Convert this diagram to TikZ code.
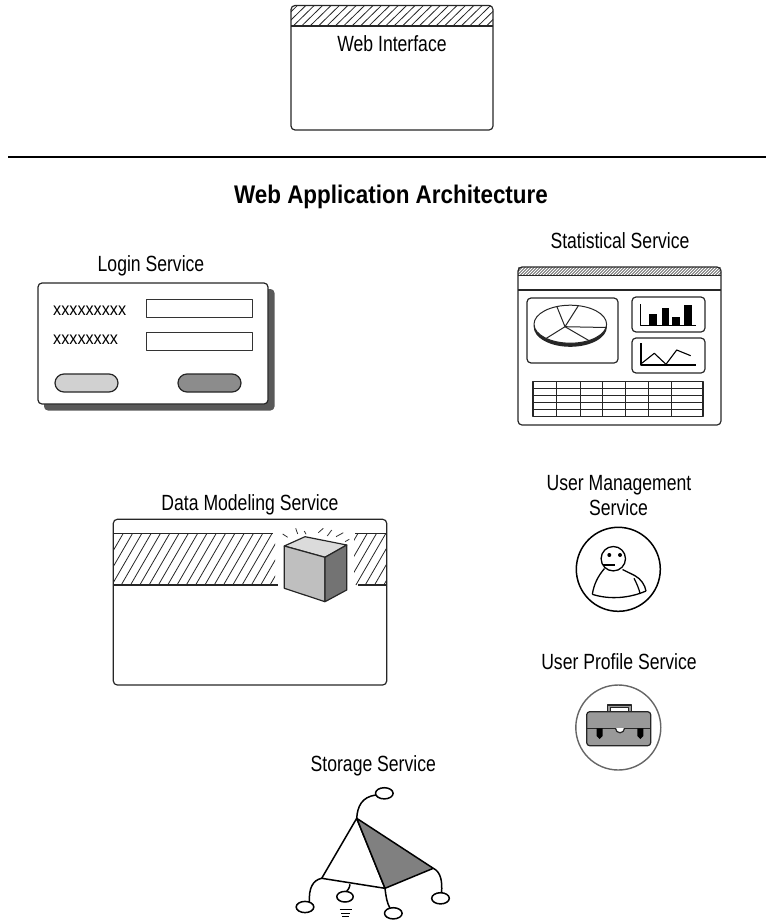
\documentclass[tikz,border=0pt]{standalone}
\usepackage{fontspec}
\setmainfont[FakeStretch=0.8]{Liberation Sans}
\newfontfamily\headfont[FakeStretch=0.88]{Liberation Sans}
\newfontfamily\fieldfont[FakeStretch=0.9]{Liberation Sans}

\begin{document}
\begin{tikzpicture}[x=1pt,y=-1pt, line join=round,
  outline/.style={draw=black!85, line width=1.2pt},
  panel/.style={outline, rounded corners=4pt},
  lbl/.style={anchor=base, inner sep=0pt, font=\fontsize{22}{26}\selectfont},
  hatchline/.style={draw=black!85, line width=0.8pt},
  ink/.style={draw=black, line width=1.5pt}]
\useasboundingbox (0,0) rectangle (766,921);

% ---------- Web Interface window ----------
\begin{scope}
  \clip (291,5.5) rectangle (493,26);
  \foreach \i in {0,...,27}
    \draw[hatchline] ({268+\i*8.4},26) -- ({289+\i*8.4},5.5);
\end{scope}
\draw[outline] (291,26) -- (493,26);
\draw[panel] (291,5.5) rectangle (493,130);
\node[lbl] (webui) at (392,51.5) {Web Interface};

% ---------- separator and title ----------
\coordinate (sepL) at (8,157);
\coordinate (sepR) at (766,157);
\draw[line width=2.7pt] (sepL) -- (sepR);
\node[anchor=base, inner sep=0pt, font=\headfont\bfseries\fontsize{25.5}{30}\selectfont] (title) at (391,203) {Web Application Architecture};

% ---------- Login Service ----------
\node[lbl] (loginlbl) at (151,271.5) {Login Service};
\fill[black!65, rounded corners=4pt] (44,289) rectangle (274.5,410.5);
\draw[panel, fill=white] (38,283) rectangle (268,404);
\draw[draw=black!80, line width=1pt] (146,299) rectangle (252,317);
\draw[draw=black!80, line width=1pt] (146,332) rectangle (252,350);
\node[anchor=base west, inner sep=0pt, font=\fieldfont\fontsize{18}{20}\selectfont] (user) at (53,315) {xxxxxxxxx};
\node[anchor=base west, inner sep=0pt, font=\fieldfont\fontsize{18}{20}\selectfont] (pass) at (53,344) {xxxxxxxx};
\draw[outline, fill=black!18, rounded corners=9pt] (55,374) rectangle (118,392);
\draw[outline, fill=black!45, rounded corners=9pt] (178,374) rectangle (241,392);

% ---------- Statistical Service ----------
\node[lbl] (statlbl) at (620,248.3) {Statistical Service};
\begin{scope}
  \clip (518,267) rectangle (721,275.5);
  \foreach \i in {0,...,72}
    \draw[draw=black!85, line width=0.6pt] ({508+\i*3},275.5) -- ({516.5+\i*3},267);
\end{scope}
\draw[outline] (518,275.5) -- (721,275.5);
\draw[outline] (518,290) -- (721,290);
\draw[panel] (518,267) rectangle (721,425);
% pie chart panel
\draw[panel] (527,298) rectangle (618,363);
\fill[black!85] (570.3,326.8) ellipse [x radius=36.6, y radius=20];
\draw[draw=black!85, line width=1pt, fill=white] (570.3,324.2) ellipse [x radius=36.3, y radius=19];
\foreach \p in {(556.7,306.2),(578.3,305.8),(606.3,327.5),(590,341.2),(546,338.5)}
  \draw[draw=black!85, line width=1pt] (565,326.7) -- \p;
% bar chart panel
\draw[panel] (632,297) rectangle (705,332);
\draw[draw=black, line width=1.1pt] (640.7,304) -- (640.7,325.7) -- (695.7,325.7);
\fill[black] (649.3,314.3) rectangle (656.7,325.7);
\fill[black] (661.7,307.7) rectangle (669,325.7);
\fill[black] (672.3,316.7) rectangle (680,325.7);
\fill[black] (684.3,305) rectangle (691.7,325.7);
% line chart panel
\draw[panel] (632,338) rectangle (705,373);
\draw[draw=black, line width=1.1pt] (641,343.3) -- (641,365) -- (695.7,365);
\draw[draw=black, line width=1.1pt] (641.7,363.3) -- (654.3,353.3) -- (666,364.3) -- (676.7,350) -- (690.7,355.7);
% table
\draw[draw=black!85, line width=1.2pt] (533,381.7) rectangle (703,416.7);
\foreach \y in {388.3,395.7,402.3,409.3}
  \draw[draw=black!85, line width=1pt] (533,\y) -- (703,\y);
\foreach \x in {556.7,580,602.7,625.7,648.3,671.7}
  \draw[draw=black!85, line width=1pt] (\x,381.7) -- (\x,416.7);

% ---------- Data Modeling Service ----------
\node[lbl] (datalbl) at (250,510) {Data Modeling Service};
\begin{scope}
  \clip (113.3,533.3) rectangle (275,585);
  \foreach \i in {0,...,20}
    \draw[hatchline] ({84+\i*9.3},585) -- ({114+\i*9.3},533.3);
\end{scope}
\begin{scope}
  \clip (354,533.3) rectangle (386.7,585);
  \foreach \i in {0,...,6}
    \draw[hatchline] ({328+\i*9.3},585) -- ({358+\i*9.3},533.3);
\end{scope}
\draw[outline] (113.3,533.3) -- (273,533.3);
\draw[outline] (113.3,585) -- (278,585);
\draw[outline] (355,533.3) -- (386.7,533.3);
\draw[outline] (358,585) -- (386.7,585);
\draw[panel] (113.3,519.3) rectangle (386.7,685);
% cube
\draw[outline, fill=black!14] (284.3,546) -- (305,536.7) -- (346.7,545) -- (325,557.3) -- cycle;
\draw[outline, fill=black!25] (284.3,546) -- (325,557.3) -- (325,601.7) -- (284.3,588.3) -- cycle;
\draw[outline, fill=black!55] (325,557.3) -- (346.7,545) -- (346.7,590) -- (325,601.7) -- cycle;
% glow strokes
\foreach \a/\b in {{(282.7,534)}/{(287.7,537.3)}, {(295.7,528.3)}/{(297.7,534)}, {(304.3,531)}/{(306,534.3)},
                   {(318.3,532.7)}/{(323.3,528.3)}, {(327.3,536)}/{(331.7,530)}, {(336,536.7)}/{(343.3,532.7)},
                   {(345,541.7)}/{(349.3,539.3)}}
  \draw[draw=black!80, line width=0.8pt] \a -- \b;

% ---------- User Management Service ----------
\node[lbl] (umlbl1) at (619,490.7) {User Management};
\node[lbl] (umlbl2) at (618.5,515) {Service};
\draw[ink] (618.3,569.3) circle [radius=42];
\draw[ink, line width=1.3pt] (592.3,594.3) .. controls (594,584) and (598,576) .. (604.5,568.5);
\draw[ink, line width=1.3pt] (622.5,569.5) -- (635,575.7) .. controls (641,579) and (645,585) .. (646,591);
\draw[ink, line width=1.3pt] (592.3,594.3) .. controls (610,600) and (630,598) .. (646,591);
\draw[ink, line width=1.2pt] (634,578.3) .. controls (637,584) and (639,589) .. (640,593.3);
\draw[ink, line width=1.3pt, fill=white] (613.3,558.7) circle [radius=12.2];
\fill (609.3,555) circle [radius=2];
\fill (620,555) circle [radius=2];
\draw[ink, line width=1.2pt] (603.3,565) -- (615,565);

% ---------- User Profile Service ----------
\node[lbl] (uplbl) at (619,669) {User Profile Service};
\draw[draw=black!60, line width=1.4pt] (618.3,727.5) circle [radius=42.5];
\draw[outline, fill=black!40] (607.7,705) rectangle (631.7,713.3);
\draw[draw=black!85, line width=1pt, fill=white] (610.7,707.7) rectangle (628.3,711.2);
\draw[outline, fill=black!40, rounded corners=3pt] (586.7,711.7) rectangle (650.7,745.7);
\draw[outline] (586.7,728.3) -- (650.7,728.3);
\begin{scope}
  \clip (610,728.3) rectangle (630,740);
  \draw[outline, fill=white] (620,728.3) circle [radius=4.5];
\end{scope}
\fill[black] (596.7,728.3) -- (602.7,728.3) -- (602.7,736) -- (599.7,739) -- (596.7,736) -- cycle;
\fill[black] (637.3,728.3) -- (643.3,728.3) -- (643.3,736) -- (640.3,739) -- (637.3,736) -- cycle;

% ---------- Storage Service ----------
\node[lbl] (stlbl) at (373.3,771.7) {Storage Service};
\coordinate (apex) at (356.7,818.3);
\coordinate (left) at (321.7,878.3);
\coordinate (bot) at (385,888.3);
\coordinate (right) at (433.3,868.3);
\draw[ink, fill=white] (apex) -- (left) -- (bot) -- cycle;
\draw[ink, fill=black!50] (apex) -- (right) -- (bot) -- cycle;
\draw[ink] (384.3,793.3) ellipse [x radius=8.8, y radius=5.6];
\draw[ink] (305,907) ellipse [x radius=8.8, y radius=5.6];
\draw[ink] (345,896.7) ellipse [x radius=8.2, y radius=5.3];
\draw[ink] (393.3,913.3) ellipse [x radius=8.8, y radius=5.6];
\draw[ink] (440.5,898.3) ellipse [x radius=8.8, y radius=5.6];
\draw[ink] (apex) .. controls (357.5,806) and (362,797) .. (375.7,795);
\draw[ink] (left) .. controls (313,880) and (308.5,888) .. (309.5,902.3);
\draw[ink] (350,884.3) .. controls (349.5,888) and (348,890) .. (346.5,891.5);
\draw[ink] (bot) .. controls (386,897) and (387,903) .. (390,908.2);
\draw[ink] (right) .. controls (441,872) and (442.5,882) .. (441.5,892.8);
\draw[draw=black, line width=1.2pt] (339.5,909.3) -- (351.5,909.3);
\draw[draw=black, line width=1.2pt] (341,913.3) -- (350,913.3);
\draw[draw=black, line width=1.2pt] (342,916.7) -- (349,916.7);
\end{tikzpicture}
\end{document}
